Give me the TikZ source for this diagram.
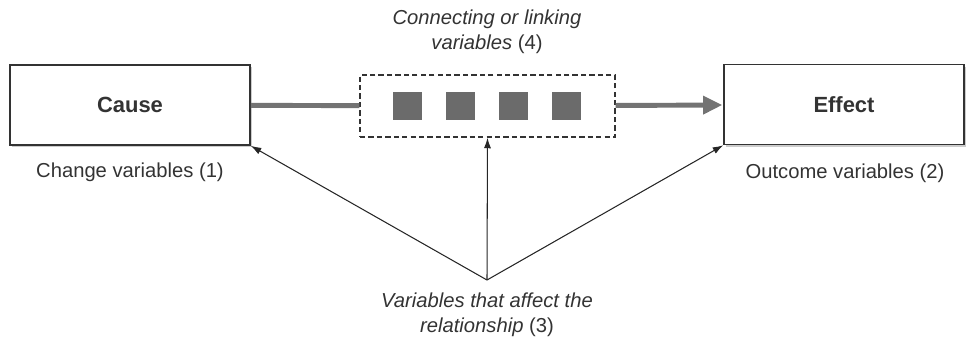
\documentclass[tikz,border=0pt]{standalone}
\usepackage{fontspec}
\setmainfont{Liberation Sans}
\usetikzlibrary{shadows,arrows.meta,positioning,calc}

\begin{document}
\begin{tikzpicture}
[x=0.02cm,y=-0.02cm,
endbox/.style={shape=rectangle,draw=black!80,line width=0.9pt,fill=white,
  minimum width=4.8cm,minimum height=1.6cm,text=black!80,
  font=\fontsize{12.5}{15}\selectfont\bfseries,
  drop shadow={shadow xshift=1.2pt,shadow yshift=-1.2pt,fill=black!20,opacity=1}},
linkbox/.style={shape=rectangle,draw=black!80,line width=0.8pt,
  dash pattern=on 3pt off 1.8pt,minimum width=5.1cm,minimum height=1.24cm},
varsq/.style={shape=rectangle,fill=black!58,minimum size=0.57cm,inner sep=0pt},
caption/.style={text=black!80,font=\fontsize{11.5}{14}\selectfont,align=center},
thickline/.style={draw=black!55,line width=2.8pt},
thinarrow/.style={draw=black!85,line width=0.6pt,-{Latex[length=6pt,width=4pt]}}]
%%
\useasboundingbox (0,0) rectangle (973,349);
\node (cause) [endbox] at (130,105) {Cause};
\node (effect) [endbox] at (844,104.5) {Effect};
\node (link) [linkbox] at (487.5,106) {};
\foreach \i in {1,...,4}
  \node (sq\i) [varsq] at ({407.5+53*(\i-1)},106) {};
%%
\node (change) [caption] at (130,172) {Change variables (1)};
\node (outcome) [caption] at (845,173) {Outcome variables (2)};
\node (linking) [caption] at (487,32)
  {\itshape Connecting or linking\\\itshape variables \upshape(4)};
\coordinate (meet) at (487,280);
\node (affect) [caption,below=4pt of meet]
  {\itshape Variables that affect the\\\itshape relationship \upshape(3)};
%%
\draw[thickline] (cause) -- (link);
\draw[thickline,-{Triangle[length=11pt,width=10pt]},shorten >=0.5pt] (link) -- (effect);
\draw[thinarrow] (meet) -- (cause.south east);
\draw[thinarrow] (meet) -- (link.south);
\draw[thinarrow] (meet) -- (effect.south west);
%%
\end{tikzpicture}
\end{document}
